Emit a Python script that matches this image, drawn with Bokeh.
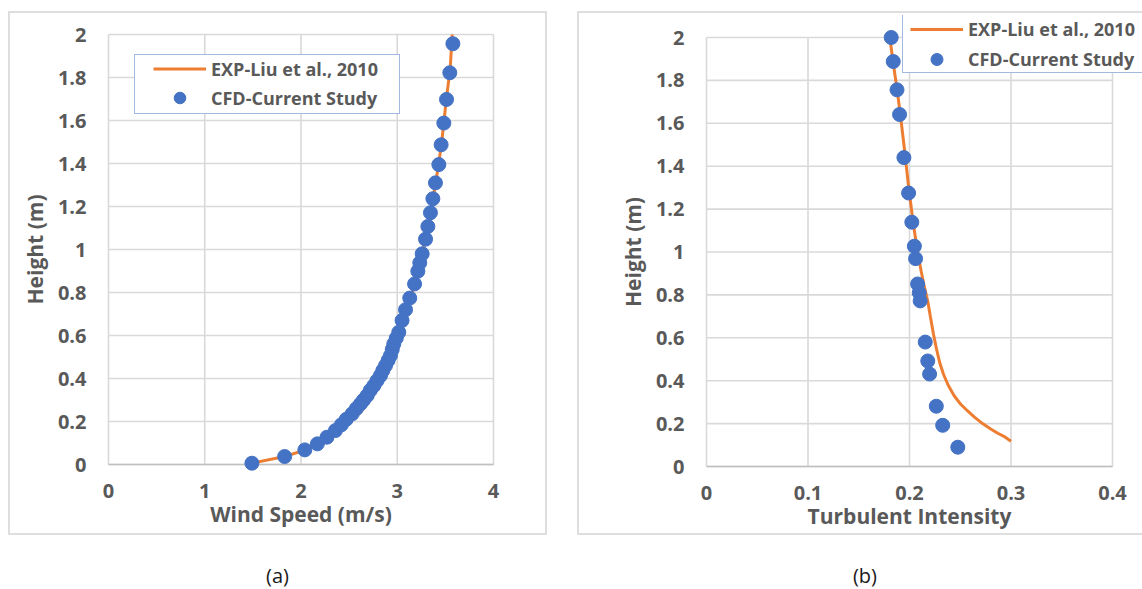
from bokeh.plotting import figure
from bokeh.models import (Range1d, FixedTicker, Legend, LegendItem, Spacer, Div,
                          CustomJSTickFormatter)
from bokeh.layouts import row, column
from bokeh.embed import file_html
from bokeh.resources import INLINE

# ---------------- data ----------------
SERIES_NAMES = ["EXP-Liu et al., 2010", "CFD-Current Study"]

# (a) wind speed profile
WS_EXP_X = [1.49, 1.83, 2.04, 2.17, 2.28, 2.41, 2.52, 2.63, 2.73, 2.83, 2.91, 2.98, 3.04,
            3.09, 3.14, 3.19, 3.24, 3.30, 3.35, 3.40, 3.46, 3.51, 3.55, 3.571]
WS_EXP_Y = [0.006, 0.037, 0.067, 0.094, 0.122, 0.16, 0.20, 0.25, 0.31, 0.38, 0.46, 0.55, 0.64,
            0.72, 0.78, 0.85, 0.94, 1.06, 1.18, 1.31, 1.49, 1.70, 1.84, 2.0]
WS_CFD_X = [1.49, 1.83, 2.04, 2.17, 2.27, 2.358, 2.42, 2.47, 2.532, 2.575, 2.618, 2.65,
            2.688, 2.72, 2.757, 2.79, 2.826, 2.85, 2.878, 2.905, 2.93, 2.948, 2.964, 2.99,
            3.016, 3.05, 3.086, 3.13, 3.18, 3.214, 3.234, 3.259, 3.294, 3.318, 3.345, 3.37,
            3.397, 3.432, 3.456, 3.484, 3.512, 3.546, 3.578]
WS_CFD_Y = [0.006, 0.037, 0.068, 0.096, 0.127, 0.158, 0.185, 0.21, 0.236, 0.26, 0.282, 0.30,
            0.321, 0.345, 0.367, 0.39, 0.414, 0.437, 0.46, 0.484, 0.507, 0.535, 0.561, 0.588,
            0.615, 0.67, 0.72, 0.774, 0.84, 0.899, 0.938, 0.98, 1.048, 1.107, 1.171, 1.236,
            1.31, 1.395, 1.487, 1.588, 1.698, 1.822, 1.957]

# (b) turbulent intensity profile
TI_EXP_X = [0.1806, 0.184, 0.188, 0.1915, 0.195, 0.199, 0.2035, 0.208, 0.2115, 0.215, 0.218,
            0.2205, 0.2235, 0.2265, 0.23, 0.2335, 0.238, 0.244, 0.2505, 0.257, 0.264, 0.272,
            0.28, 0.287, 0.294, 0.300]
TI_EXP_Y = [2.0, 1.88, 1.75, 1.62, 1.48, 1.31, 1.14, 1.0, 0.91, 0.83, 0.77, 0.70, 0.62, 0.55,
            0.48, 0.43, 0.38, 0.33, 0.29, 0.26, 0.23, 0.20, 0.175, 0.155, 0.138, 0.118]
TI_CFD_X = [0.182, 0.184, 0.1877, 0.1902, 0.1945, 0.1991, 0.2023, 0.2048, 0.206, 0.208,
            0.2096, 0.2105, 0.2155, 0.218, 0.2198, 0.2264, 0.2327, 0.2476]
TI_CFD_Y = [2.0, 1.888, 1.756, 1.641, 1.44, 1.275, 1.139, 1.027, 0.969, 0.851, 0.81, 0.772,
            0.58, 0.492, 0.431, 0.281, 0.192, 0.09]

WS_TICKS = [0, 1, 2, 3, 4]
WS_TICK_LABELS = ["0", "1", "2", "3", "4"]
TI_TICKS = [0, 0.1, 0.2, 0.3, 0.4]
TI_TICK_LABELS = ["0", "0.1", "0.2", "0.3", "0.4"]
H_TICKS = [0, 0.2, 0.4, 0.6, 0.8, 1.0, 1.2, 1.4, 1.6, 1.8, 2.0]
H_TICK_LABELS = ["0", "0.2", "0.4", "0.6", "0.8", "1", "1.2", "1.4", "1.6", "1.8", "2"]

# ---------------- style ----------------
BLUE = "#4472C4"
ORANGE = "#ED7D31"
GRID = "#d9d9d9"
BASE = "#bfbfbf"
TXT = "#595959"
FONT = "Open Sans"


def fmt(tick_values, tick_labels):
    return CustomJSTickFormatter(
        args=dict(tv=tick_values, tl=tick_labels),
        code="const i = tv.findIndex(t => Math.abs(t - tick) < 1e-9); return i >= 0 ? tl[i] : '';")


def make_chart(exp_x, exp_y, cfd_x, cfd_y, xticks, xlabels, xtitle,
               mb_left, mb_top, mb_right, mb_bottom, data_w, data_h, pads,
               x_standoff, y_standoff,
               legA_loc, legA_h, legB_loc, legB_gh, styles):
    # pads = white space (px) left, right, bottom, top of the plotted data area
    pl, pr, pb, pt = pads
    xmin, xmax = xticks[0], xticks[-1]
    ymin, ymax = H_TICKS[0], H_TICKS[-1]
    ux = (xmax - xmin) / data_w
    uy = (ymax - ymin) / data_h
    p = figure(title=None, frame_width=data_w + pl + pr, frame_height=data_h + pb + pt,
               min_border_left=mb_left, min_border_right=mb_right,
               min_border_top=mb_top, min_border_bottom=mb_bottom,
               x_range=Range1d(xmin - pl * ux, xmax + pr * ux),
               y_range=Range1d(ymin - pb * uy, ymax + pt * uy),
               output_backend="svg", toolbar_location=None)
    p.border_fill_color = None
    p.background_fill_color = "white"
    p.outline_line_color = None
    p.xgrid.visible = False
    p.ygrid.visible = False
    p.styles = styles

    # gridlines from the tick arrays
    p.segment(x0=xticks, y0=[ymin] * len(xticks), x1=xticks, y1=[ymax] * len(xticks),
              line_color=GRID, line_width=1.6)
    p.segment(x0=[xmin] * len(H_TICKS), y0=H_TICKS, x1=[xmax] * len(H_TICKS), y1=H_TICKS,
              line_color=GRID, line_width=1.6)
    p.segment(x0=[xmin], y0=[ymin], x1=[xmax], y1=[ymin], line_color=BASE, line_width=1.6)

    exp_r = p.line(exp_x, exp_y, line_color=ORANGE, line_width=3)
    cfd_r = p.scatter(cfd_x, cfd_y, size=14, marker="circle",
                      fill_color=BLUE, line_color=BLUE)
    dummy = p.scatter(x=[], y=[], fill_alpha=0, line_alpha=0)

    for ax, ticks, labels in ((p.xaxis[0], xticks, xlabels), (p.yaxis[0], H_TICKS, H_TICK_LABELS)):
        ax.ticker = FixedTicker(ticks=ticks)
        ax.formatter = fmt(ticks, labels)
        ax.axis_line_color = None
        ax.major_tick_line_color = None
        ax.minor_tick_line_color = None
        ax.major_tick_out = 0
        ax.major_tick_in = 0
        ax.major_label_text_font = FONT
        ax.major_label_text_font_style = "bold"
        ax.major_label_text_font_size = "20px"
        ax.major_label_text_color = TXT
        ax.axis_label_text_font = FONT
        ax.axis_label_text_font_style = "bold"
        ax.axis_label_text_font_size = "21px"
        ax.axis_label_text_color = TXT
    p.xaxis.axis_label = xtitle
    p.xaxis.major_label_standoff = x_standoff
    p.xaxis.axis_label_standoff = -1
    p.yaxis.axis_label = "Height (m)"
    p.yaxis.major_label_standoff = y_standoff
    p.yaxis.axis_label_standoff = 6

    # legend frame (box only)
    legA = Legend(items=[LegendItem(label=" ", renderers=[dummy])], location=legA_loc,
                  glyph_width=250, glyph_height=legA_h,
                  label_width=14, label_height=20, label_standoff=0, padding=0, margin=0,
                  spacing=0, border_line_color=BLUE, border_line_width=1.5,
                  background_fill_color="white", background_fill_alpha=1.0)
    legB = Legend(items=[LegendItem(label=SERIES_NAMES[0], renderers=[exp_r]),
                         LegendItem(label=SERIES_NAMES[1], renderers=[cfd_r])],
                  location=legB_loc, glyph_width=53, glyph_height=legB_gh,
                  label_height=legB_gh, label_standoff=5, padding=0, margin=0, spacing=0,
                  border_line_color=None, background_fill_alpha=0,
                  label_text_font=FONT, label_text_font_style="bold",
                  label_text_font_size="18px", label_text_color=TXT)
    p.add_layout(legA)
    p.add_layout(legB)
    return p


STYLE_LEFT = {"box-shadow": ("inset 2px 0 0 #dedede, inset -2px 0 0 #dedede, "
                             "inset 0 2px 0 #dedede, inset 0 -2px 0 #dedede")}
# right panel: its element starts at the page top; the grey frame begins 11px down
LINE = "linear-gradient(#dedede, #dedede)"
STYLE_RIGHT = {"background-image": ", ".join([LINE] * 3),
               "background-position": "0 11px, 0 11px, 0 100%",
               "background-size": "100% 2px, 2px 100%, 100% 2px",
               "background-repeat": "no-repeat"}

left = make_chart(WS_EXP_X, WS_EXP_Y, WS_CFD_X, WS_CFD_Y, WS_TICKS, WS_TICK_LABELS,
                  "Wind Speed (m/s)",
                  mb_left=92, mb_top=15, mb_right=46, mb_bottom=63,
                  data_w=385, data_h=430, pads=(8, 8, 8, 8),
                  x_standoff=11, y_standoff=14,
                  legA_loc=(34, 358), legA_h=58, legB_loc=(53, 360), legB_gh=29,
                  styles=STYLE_LEFT)
right = make_chart(TI_EXP_X, TI_EXP_Y, TI_CFD_X, TI_CFD_Y, TI_TICKS, TI_TICK_LABELS,
                   "Turbulent Intensity",
                   mb_left=99, mb_top=15, mb_right=0, mb_bottom=47,
                   data_w=406, data_h=429, pads=(30, 30, 22, 22),
                   x_standoff=-3, y_standoff=-8,
                   legA_loc=(226, 415), legA_h=57, legB_loc=(234, 414), legB_gh=30,
                   styles=STYLE_RIGHT)


def caption(txt, w, shift):
    html = ('<div style="position:relative; top:29px; width:%dpx; box-sizing:border-box; '
            'padding-left:%dpx; text-align:center; font-family:\'Open Sans\'; font-size:20px; '
            'line-height:24px; color:#1a1a1a;">%s</div>' % (w, shift, txt))
    return Div(text=html, width=w, height=54, margin=(0, 0, 0, 0),
               styles={"overflow": "visible"})


cap_a = caption("(a)", 539, 0)
cap_b = caption("(b)", 565, 11)

layout = column(
    row(Spacer(width=8, height=535),
        column(Spacer(width=539, height=11), left),
        Spacer(width=30, height=535),
        right),
    row(Spacer(width=8, height=54), cap_a, Spacer(width=30, height=54), cap_b),
)

open("out.html", "w").write(file_html(layout, INLINE))
